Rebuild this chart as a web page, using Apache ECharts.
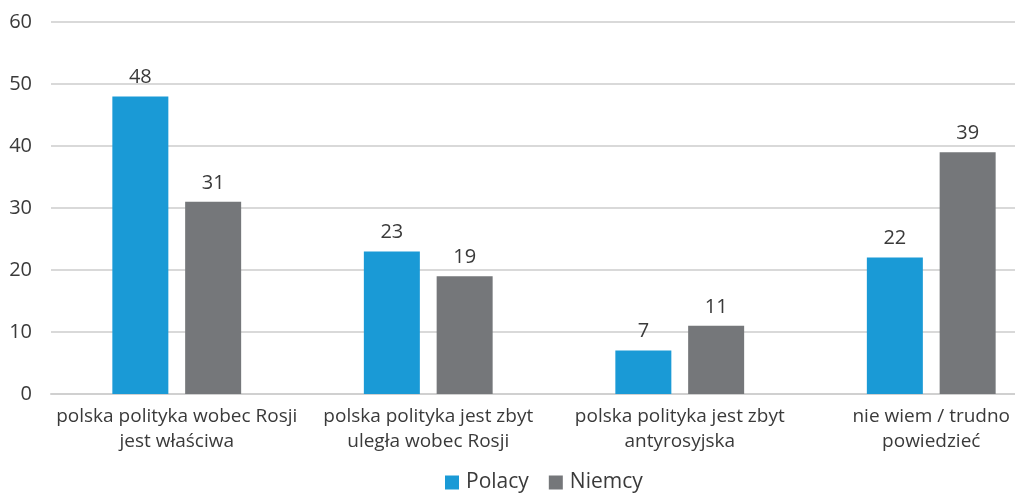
<!DOCTYPE html>
<html><head><meta charset="utf-8">
<script src="https://cdn.jsdelivr.net/npm/echarts@6/dist/echarts.min.js"></script>
<style>html,body{margin:0;padding:0;background:#fff}#c{width:1015px;height:495px}</style>
</head><body><div id="c"></div>
<script>
const categories = ['polska polityka wobec Rosji\njest właściwa', 'polska polityka jest zbyt\nuległa wobec Rosji', 'polska polityka jest zbyt\nantyrosyjska', 'nie wiem / trudno\npowiedzieć'];
const seriesNames = ['Polacy', 'Niemcy'];
const polacy = [48, 23, 7, 22];
const niemcy = [31, 19, 11, 39];
const yTicks = { min: 0, max: 60, interval: 10 };

const font = '"Open Sans", sans-serif';
const txt = '#3a3a3a';
const chart = echarts.init(document.getElementById('c'));
chart.setOption({
  animation: false,
  textStyle: { fontFamily: font },
  grid: { left: 51, width: 1006, top: 22, bottom: 101, containLabel: false, outerBoundsMode: 'none' },
  legend: {
    data: seriesNames, left: 445, top: 472, padding: 0, itemWidth: 14, itemHeight: 14, itemGap: 20,
    icon: 'rect',
    textStyle: { fontSize: 21, color: txt, fontFamily: font, padding: [0, 0, 0, 2] }
  },
  xAxis: {
    type: 'category', data: categories,
    axisLine: { lineStyle: { color: '#d0d0d0', width: 2 } },
    axisTick: { show: false },
    axisLabel: { color: txt, fontSize: 19, lineHeight: 25, margin: 10, interval: 0, fontFamily: font }
  },
  yAxis: {
    type: 'value', min: yTicks.min, max: yTicks.max, interval: yTicks.interval,
    axisLine: { show: false }, axisTick: { show: false },
    splitLine: { lineStyle: { color: '#d9d9d9', width: 2 } },
    axisLabel: { color: txt, fontSize: 20, margin: 19, fontFamily: font }
  },
  series: [
    { name: seriesNames[0], type: 'bar', data: polacy, barWidth: 56, barGap: '30%',
      itemStyle: { color: '#1a9ad6' },
      label: { show: true, position: 'top', distance: 9, color: txt, fontSize: 20, fontFamily: font } },
    { name: seriesNames[1], type: 'bar', data: niemcy, barWidth: 56,
      itemStyle: { color: '#75777a' },
      label: { show: true, position: 'top', distance: 9, color: txt, fontSize: 20, fontFamily: font } }
  ]
});
</script></body></html>
